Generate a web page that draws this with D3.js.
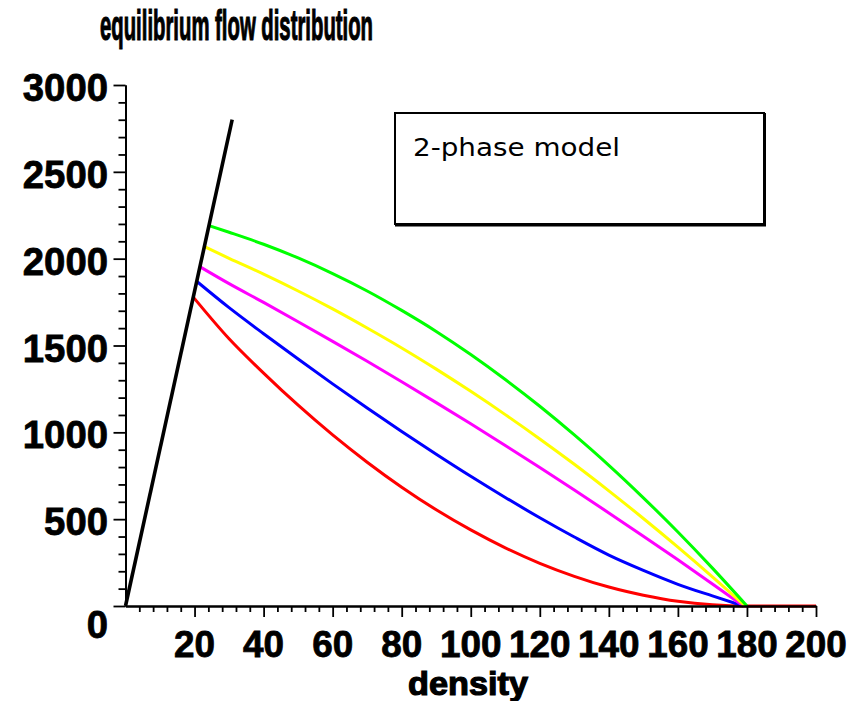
<!DOCTYPE html>
<html>
<head>
<meta charset="utf-8">
<script src="https://cdn.jsdelivr.net/npm/d3@7/dist/d3.min.js"></script>
<style>
  html, body { margin: 0; padding: 0; background: #fff; }
  svg { display: block; }
</style>
</head>
<body>
<svg id="chart" width="857" height="701"></svg>
<script>
// ---- data ----
const titleText = "equilibrium flow distribution";
const xLabelText = "density";
const legendText = "2-phase model";

const xTickLabels = [20, 40, 60, 80, 100, 120, 140, 160, 180, 200];
const yTickLabels = [0, 500, 1000, 1500, 2000, 2500, 3000];

const freeFlowK = [0, 30.9];
const freeFlowQ = [0, 2800];

const greenK = [24.1, 30, 40, 50, 60, 70, 80, 90, 100, 110, 120, 130, 140, 150, 160, 170, 180];
const greenQ = [2191, 2152, 2083, 2004, 1914, 1814, 1702, 1581, 1448, 1304, 1150, 985, 810, 623, 426, 218, 0];

const yellowK = [22.8, 30, 40, 50, 60, 70, 80, 90, 100, 110, 120, 130, 140, 150, 160, 170, 179.5];
const yellowQ = [2070, 2002, 1911, 1814, 1711, 1601, 1486, 1364, 1236, 1102, 962, 816, 663, 504, 339, 168, 0];

const magentaK = [21.5, 30, 40, 50, 60, 70, 80, 90, 100, 110, 120, 130, 140, 150, 160, 170, 179];
const magentaQ = [1954, 1856, 1748, 1637, 1524, 1409, 1291, 1171, 1049, 924, 797, 668, 536, 402, 266, 127, 0];

const blueK = [20.6, 30, 40, 50, 60, 70, 80, 90, 100, 110, 120, 130, 140, 150, 160, 170, 179];
const blueQ = [1870, 1718, 1568, 1422, 1279, 1140, 1005, 874, 747, 625, 508, 397, 293, 205, 125, 58, 0];

const redK = [19.5, 30, 40, 50, 60, 70, 80, 90, 100, 110, 120, 130, 140, 150, 160, 170, 180, 190, 200];
const redQ = [1782, 1539, 1341, 1156, 985, 828, 684, 554, 438, 335, 246, 171, 109, 62, 27, 7, 0, 0, 0];

// ---- layout ----
const svg = d3.select("#chart");
const x = d3.scaleLinear().domain([0, 200]).range([125.5, 816]);
const y = d3.scaleLinear().domain([0, 3000]).range([606, 85]);

const boldFont = "'Liberation Sans', Arial, sans-serif";

// curves
const line = d3.line().x(d => x(d[0])).y(d => y(d[1])).curve(d3.curveMonotoneX);
const zip = (a, b) => a.map((v, i) => [v, b[i]]);

const series = [
  { k: redK, q: redQ, color: "#ff0000", w: 3 },
  { k: blueK, q: blueQ, color: "#0000ff", w: 3 },
  { k: magentaK, q: magentaQ, color: "#ff00ff", w: 3 },
  { k: yellowK, q: yellowQ, color: "#ffff00", w: 3 },
  { k: greenK, q: greenQ, color: "#00ff00", w: 3 },
  { k: freeFlowK, q: freeFlowQ, color: "#000000", w: 3.6 }
];

const gCurves = svg.append("g");
series.forEach(s => {
  gCurves.append("path")
    .attr("d", line(zip(s.k, s.q)))
    .attr("fill", "none")
    .attr("stroke", s.color)
    .attr("stroke-width", s.w)
    .attr("stroke-linejoin", "round");
});

// axes
const xMinor = d3.range(0, 201, 4).filter(v => v % 20 !== 0);
const xMajor = d3.range(20, 201, 20);
const yMinor = d3.range(0, 3001, 100).filter(v => v % 500 !== 0);
const yMajor = yTickLabels;

function styleAxis(g) {
  g.select(".domain").attr("stroke", "#000").attr("stroke-width", 2);
  g.selectAll(".tick line").attr("stroke", "#000").attr("stroke-width", 1.8);
  g.selectAll(".tick text").remove();
}

svg.append("g").attr("transform", `translate(0,${y(0)})`)
  .call(d3.axisBottom(x).tickValues(xMinor).tickSize(6).tickSizeOuter(0))
  .call(styleAxis);
svg.append("g").attr("transform", `translate(0,${y(0)})`)
  .call(d3.axisBottom(x).tickValues(xMajor).tickSize(11).tickSizeOuter(0))
  .call(styleAxis);

svg.append("g").attr("transform", `translate(${x(0)},0)`)
  .call(d3.axisLeft(y).tickValues(yMinor).tickSize(7).tickSizeOuter(0))
  .call(styleAxis);
svg.append("g").attr("transform", `translate(${x(0)},0)`)
  .call(d3.axisLeft(y).tickValues(yMajor).tickSize(12).tickSizeOuter(0))
  .call(styleAxis);

// tick labels
svg.append("g").selectAll("text").data(xTickLabels).join("text")
  .attr("x", d => x(d))
  .attr("y", y(0) + 51)
  .attr("text-anchor", "middle")
  .attr("font-family", boldFont)
  .attr("font-weight", "bold")
  .attr("font-size", 37)
  .attr("textLength", d => String(d).length * 20.5)
  .attr("lengthAdjust", "spacingAndGlyphs")
  .attr("stroke", "#000").attr("stroke-width", 0.8)
  .text(d => d);

svg.append("g").selectAll("text").data(yTickLabels).join("text")
  .attr("x", 108)
  .attr("y", d => d === 0 ? y(0) + 32 : y(d) + 16)
  .attr("text-anchor", "end")
  .attr("font-family", boldFont)
  .attr("font-weight", "bold")
  .attr("font-size", 39)
  .attr("textLength", d => String(d).length * 21.3)
  .attr("lengthAdjust", "spacingAndGlyphs")
  .attr("stroke", "#000").attr("stroke-width", 0.8)
  .text(d => d);

// title
svg.append("text")
  .attr("x", 100).attr("y", 40)
  .attr("font-family", boldFont).attr("font-weight", "bold")
  .attr("font-size", 42)
  .attr("textLength", 273).attr("lengthAdjust", "spacingAndGlyphs")
  .attr("stroke", "#000").attr("stroke-width", 1.2)
  .text(titleText);

// x label
svg.append("text")
  .attr("x", 408).attr("y", 695)
  .attr("font-family", boldFont).attr("font-weight", "bold")
  .attr("font-size", 33)
  .attr("textLength", 120).attr("lengthAdjust", "spacingAndGlyphs")
  .attr("stroke", "#000").attr("stroke-width", 1.2)
  .text(xLabelText);

// legend box (thicker right/bottom edge like the reference)
svg.append("rect")
  .attr("x", 395).attr("y", 113).attr("width", 369).attr("height", 111)
  .attr("fill", "#fff").attr("stroke", "#000").attr("stroke-width", 2);
svg.append("path")
  .attr("d", `M764.5,113 V225 H395`)
  .attr("fill", "none").attr("stroke", "#000").attr("stroke-width", 3);
svg.append("text")
  .attr("x", 413).attr("y", 156)
  .attr("font-family", "'DejaVu Sans', Verdana, sans-serif")
  .attr("font-size", 24)
  .attr("textLength", 207).attr("lengthAdjust", "spacingAndGlyphs")
  .text(legendText);
</script>
</body>
</html>
